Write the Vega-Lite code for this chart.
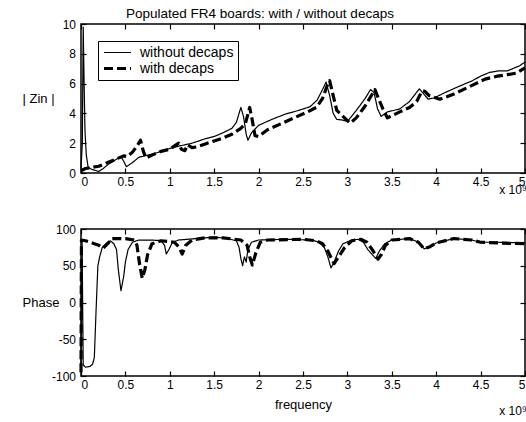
{
  "$schema": "https://vega.github.io/schema/vega-lite/v6.json",
  "autosize": {"type": "pad"},
  "padding": {"left": 21, "top": 5, "right": 0, "bottom": 0},
  "bounds": "flush",
  "spacing": 56,
  "config": {
    "font": "Liberation Sans",
    "view": {"stroke": "black", "strokeWidth": 1.5},
    "axis": {
      "domain": false, "grid": false, "tickColor": "black", "tickSize": -5, "tickWidth": 1.2,
      "labelFontSize": 12, "labelColor": "black", "labelFont": "Liberation Sans",
      "titleFontWeight": "normal", "titleColor": "black", "titleFont": "Liberation Sans", "titleFontSize": 13
    }
  },
  "datasets": {
    "mag": [
      {"f": 0, "v": 0.3, "s": "without decaps"},
      {"f": 0.015, "v": 2, "s": "without decaps"},
      {"f": 0.025, "v": 9.8, "s": "without decaps"},
      {"f": 0.035, "v": 6, "s": "without decaps"},
      {"f": 0.045, "v": 2.8, "s": "without decaps"},
      {"f": 0.06, "v": 1.2, "s": "without decaps"},
      {"f": 0.08, "v": 0.4, "s": "without decaps"},
      {"f": 0.12, "v": 0.25, "s": "without decaps"},
      {"f": 0.2, "v": 0.1, "s": "without decaps"},
      {"f": 0.25, "v": 0.3, "s": "without decaps"},
      {"f": 0.3, "v": 0.55, "s": "without decaps"},
      {"f": 0.38, "v": 0.85, "s": "without decaps"},
      {"f": 0.45, "v": 1.1, "s": "without decaps"},
      {"f": 0.48, "v": 0.8, "s": "without decaps"},
      {"f": 0.51, "v": 0.42, "s": "without decaps"},
      {"f": 0.58, "v": 0.7, "s": "without decaps"},
      {"f": 0.65, "v": 1.05, "s": "without decaps"},
      {"f": 0.75, "v": 1.2, "s": "without decaps"},
      {"f": 0.85, "v": 1.35, "s": "without decaps"},
      {"f": 1.0, "v": 1.65, "s": "without decaps"},
      {"f": 1.1, "v": 1.8, "s": "without decaps"},
      {"f": 1.25, "v": 2.0, "s": "without decaps"},
      {"f": 1.4, "v": 2.3, "s": "without decaps"},
      {"f": 1.5, "v": 2.45, "s": "without decaps"},
      {"f": 1.6, "v": 2.7, "s": "without decaps"},
      {"f": 1.7, "v": 3.0, "s": "without decaps"},
      {"f": 1.75, "v": 3.4, "s": "without decaps"},
      {"f": 1.8, "v": 4.4, "s": "without decaps"},
      {"f": 1.83, "v": 3.8, "s": "without decaps"},
      {"f": 1.86, "v": 2.6, "s": "without decaps"},
      {"f": 1.88, "v": 2.2, "s": "without decaps"},
      {"f": 1.92, "v": 2.7, "s": "without decaps"},
      {"f": 2.0, "v": 3.2, "s": "without decaps"},
      {"f": 2.15, "v": 3.6, "s": "without decaps"},
      {"f": 2.3, "v": 3.95, "s": "without decaps"},
      {"f": 2.45, "v": 4.2, "s": "without decaps"},
      {"f": 2.58, "v": 4.45, "s": "without decaps"},
      {"f": 2.66, "v": 4.9, "s": "without decaps"},
      {"f": 2.72, "v": 5.6, "s": "without decaps"},
      {"f": 2.76, "v": 6.1, "s": "without decaps"},
      {"f": 2.8, "v": 5.2, "s": "without decaps"},
      {"f": 2.84, "v": 4.0, "s": "without decaps"},
      {"f": 2.88, "v": 3.6, "s": "without decaps"},
      {"f": 2.95, "v": 3.55, "s": "without decaps"},
      {"f": 3.0, "v": 3.45, "s": "without decaps"},
      {"f": 3.1, "v": 4.2, "s": "without decaps"},
      {"f": 3.2, "v": 5.0, "s": "without decaps"},
      {"f": 3.26, "v": 5.6, "s": "without decaps"},
      {"f": 3.3, "v": 5.4, "s": "without decaps"},
      {"f": 3.34, "v": 4.3, "s": "without decaps"},
      {"f": 3.38, "v": 3.8, "s": "without decaps"},
      {"f": 3.45, "v": 4.1, "s": "without decaps"},
      {"f": 3.59, "v": 4.3, "s": "without decaps"},
      {"f": 3.7, "v": 4.8, "s": "without decaps"},
      {"f": 3.81, "v": 5.65, "s": "without decaps"},
      {"f": 3.86, "v": 5.3, "s": "without decaps"},
      {"f": 3.91, "v": 4.95, "s": "without decaps"},
      {"f": 3.98, "v": 5.05, "s": "without decaps"},
      {"f": 4.1, "v": 5.4, "s": "without decaps"},
      {"f": 4.25, "v": 5.8, "s": "without decaps"},
      {"f": 4.41, "v": 6.2, "s": "without decaps"},
      {"f": 4.5, "v": 6.5, "s": "without decaps"},
      {"f": 4.6, "v": 6.75, "s": "without decaps"},
      {"f": 4.7, "v": 6.85, "s": "without decaps"},
      {"f": 4.8, "v": 6.85, "s": "without decaps"},
      {"f": 4.94, "v": 7.2, "s": "without decaps"},
      {"f": 5.0, "v": 7.45, "s": "without decaps"},
      {"f": 0, "v": 0.15, "s": "with decaps"},
      {"f": 0.05, "v": 0.3, "s": "with decaps"},
      {"f": 0.1, "v": 0.35, "s": "with decaps"},
      {"f": 0.2, "v": 0.45, "s": "with decaps"},
      {"f": 0.3, "v": 0.7, "s": "with decaps"},
      {"f": 0.4, "v": 0.95, "s": "with decaps"},
      {"f": 0.48, "v": 1.15, "s": "with decaps"},
      {"f": 0.52, "v": 1.1, "s": "with decaps"},
      {"f": 0.58, "v": 1.4, "s": "with decaps"},
      {"f": 0.63, "v": 1.8, "s": "with decaps"},
      {"f": 0.67, "v": 2.2, "s": "with decaps"},
      {"f": 0.7, "v": 1.5, "s": "with decaps"},
      {"f": 0.73, "v": 1.0, "s": "with decaps"},
      {"f": 0.8, "v": 1.2, "s": "with decaps"},
      {"f": 0.9, "v": 1.45, "s": "with decaps"},
      {"f": 1.0, "v": 1.6, "s": "with decaps"},
      {"f": 1.05, "v": 1.8, "s": "with decaps"},
      {"f": 1.1, "v": 2.0, "s": "with decaps"},
      {"f": 1.13, "v": 1.6, "s": "with decaps"},
      {"f": 1.17, "v": 1.5, "s": "with decaps"},
      {"f": 1.2, "v": 1.9, "s": "with decaps"},
      {"f": 1.25, "v": 1.7, "s": "with decaps"},
      {"f": 1.3, "v": 1.75, "s": "with decaps"},
      {"f": 1.4, "v": 1.95, "s": "with decaps"},
      {"f": 1.5, "v": 2.15, "s": "with decaps"},
      {"f": 1.6, "v": 2.35, "s": "with decaps"},
      {"f": 1.7, "v": 2.6, "s": "with decaps"},
      {"f": 1.8, "v": 3.0, "s": "with decaps"},
      {"f": 1.85, "v": 3.3, "s": "with decaps"},
      {"f": 1.9, "v": 4.4, "s": "with decaps"},
      {"f": 1.93, "v": 3.5, "s": "with decaps"},
      {"f": 1.96, "v": 2.5, "s": "with decaps"},
      {"f": 2.0, "v": 2.45, "s": "with decaps"},
      {"f": 2.1, "v": 2.9, "s": "with decaps"},
      {"f": 2.25, "v": 3.3, "s": "with decaps"},
      {"f": 2.4, "v": 3.7, "s": "with decaps"},
      {"f": 2.55, "v": 4.1, "s": "with decaps"},
      {"f": 2.65, "v": 4.4, "s": "with decaps"},
      {"f": 2.72, "v": 5.0, "s": "with decaps"},
      {"f": 2.78, "v": 6.0, "s": "with decaps"},
      {"f": 2.8, "v": 6.2, "s": "with decaps"},
      {"f": 2.84, "v": 5.2, "s": "with decaps"},
      {"f": 2.88, "v": 4.2, "s": "with decaps"},
      {"f": 2.95, "v": 3.8, "s": "with decaps"},
      {"f": 3.03, "v": 3.35, "s": "with decaps"},
      {"f": 3.1, "v": 3.7, "s": "with decaps"},
      {"f": 3.2, "v": 4.5, "s": "with decaps"},
      {"f": 3.28, "v": 5.3, "s": "with decaps"},
      {"f": 3.31, "v": 5.6, "s": "with decaps"},
      {"f": 3.35, "v": 5.0, "s": "with decaps"},
      {"f": 3.4, "v": 4.3, "s": "with decaps"},
      {"f": 3.45, "v": 3.7, "s": "with decaps"},
      {"f": 3.59, "v": 4.1, "s": "with decaps"},
      {"f": 3.7, "v": 4.4, "s": "with decaps"},
      {"f": 3.78, "v": 4.8, "s": "with decaps"},
      {"f": 3.84, "v": 5.5, "s": "with decaps"},
      {"f": 3.87, "v": 5.5, "s": "with decaps"},
      {"f": 3.92, "v": 5.2, "s": "with decaps"},
      {"f": 4.04, "v": 4.95, "s": "with decaps"},
      {"f": 4.2, "v": 5.3, "s": "with decaps"},
      {"f": 4.41, "v": 5.9, "s": "with decaps"},
      {"f": 4.55, "v": 6.3, "s": "with decaps"},
      {"f": 4.69, "v": 6.5, "s": "with decaps"},
      {"f": 4.8, "v": 6.6, "s": "with decaps"},
      {"f": 4.9, "v": 6.7, "s": "with decaps"},
      {"f": 5.0, "v": 7.05, "s": "with decaps"}
    ],
    "phase": [
      {"f": 0, "p": -90, "s": "without decaps"},
      {"f": 0.012, "p": 85, "s": "without decaps"},
      {"f": 0.025, "p": -85, "s": "without decaps"},
      {"f": 0.05, "p": -88, "s": "without decaps"},
      {"f": 0.1, "p": -87, "s": "without decaps"},
      {"f": 0.13, "p": -84, "s": "without decaps"},
      {"f": 0.15, "p": -75, "s": "without decaps"},
      {"f": 0.17, "p": -10, "s": "without decaps"},
      {"f": 0.19, "p": 50, "s": "without decaps"},
      {"f": 0.21, "p": 62, "s": "without decaps"},
      {"f": 0.24, "p": 75, "s": "without decaps"},
      {"f": 0.28, "p": 80, "s": "without decaps"},
      {"f": 0.33, "p": 84, "s": "without decaps"},
      {"f": 0.37, "p": 80, "s": "without decaps"},
      {"f": 0.4, "p": 72, "s": "without decaps"},
      {"f": 0.42, "p": 45, "s": "without decaps"},
      {"f": 0.45, "p": 16, "s": "without decaps"},
      {"f": 0.48, "p": 35, "s": "without decaps"},
      {"f": 0.5, "p": 55, "s": "without decaps"},
      {"f": 0.53, "p": 72, "s": "without decaps"},
      {"f": 0.58, "p": 82, "s": "without decaps"},
      {"f": 0.65, "p": 85, "s": "without decaps"},
      {"f": 0.8, "p": 85, "s": "without decaps"},
      {"f": 0.9, "p": 84, "s": "without decaps"},
      {"f": 0.94, "p": 78, "s": "without decaps"},
      {"f": 0.96, "p": 66, "s": "without decaps"},
      {"f": 0.99, "p": 72, "s": "without decaps"},
      {"f": 1.03, "p": 82, "s": "without decaps"},
      {"f": 1.1, "p": 85, "s": "without decaps"},
      {"f": 1.3, "p": 87, "s": "without decaps"},
      {"f": 1.5, "p": 89, "s": "without decaps"},
      {"f": 1.65, "p": 87, "s": "without decaps"},
      {"f": 1.75, "p": 84, "s": "without decaps"},
      {"f": 1.78, "p": 75, "s": "without decaps"},
      {"f": 1.8, "p": 60, "s": "without decaps"},
      {"f": 1.82, "p": 50, "s": "without decaps"},
      {"f": 1.84, "p": 62, "s": "without decaps"},
      {"f": 1.86, "p": 55, "s": "without decaps"},
      {"f": 1.88, "p": 72, "s": "without decaps"},
      {"f": 1.92, "p": 82, "s": "without decaps"},
      {"f": 2.0, "p": 85, "s": "without decaps"},
      {"f": 2.3, "p": 86, "s": "without decaps"},
      {"f": 2.6, "p": 85, "s": "without decaps"},
      {"f": 2.68, "p": 82, "s": "without decaps"},
      {"f": 2.74, "p": 75, "s": "without decaps"},
      {"f": 2.78, "p": 62, "s": "without decaps"},
      {"f": 2.815, "p": 47, "s": "without decaps"},
      {"f": 2.85, "p": 55, "s": "without decaps"},
      {"f": 2.9, "p": 70, "s": "without decaps"},
      {"f": 2.95, "p": 80, "s": "without decaps"},
      {"f": 3.05, "p": 85, "s": "without decaps"},
      {"f": 3.12, "p": 86, "s": "without decaps"},
      {"f": 3.18, "p": 82, "s": "without decaps"},
      {"f": 3.23, "p": 72, "s": "without decaps"},
      {"f": 3.28, "p": 65, "s": "without decaps"},
      {"f": 3.32, "p": 60, "s": "without decaps"},
      {"f": 3.36, "p": 70, "s": "without decaps"},
      {"f": 3.42, "p": 80, "s": "without decaps"},
      {"f": 3.5, "p": 85, "s": "without decaps"},
      {"f": 3.7, "p": 87, "s": "without decaps"},
      {"f": 3.8, "p": 82, "s": "without decaps"},
      {"f": 3.865, "p": 73, "s": "without decaps"},
      {"f": 3.93, "p": 76, "s": "without decaps"},
      {"f": 4.0, "p": 81, "s": "without decaps"},
      {"f": 4.2, "p": 87, "s": "without decaps"},
      {"f": 4.4, "p": 85, "s": "without decaps"},
      {"f": 4.5, "p": 82, "s": "without decaps"},
      {"f": 4.7, "p": 82, "s": "without decaps"},
      {"f": 5.0, "p": 81, "s": "without decaps"},
      {"f": 0, "p": -95, "s": "with decaps"},
      {"f": 0.005, "p": 85, "s": "with decaps"},
      {"f": 0.05, "p": 84, "s": "with decaps"},
      {"f": 0.1, "p": 82, "s": "with decaps"},
      {"f": 0.15, "p": 80, "s": "with decaps"},
      {"f": 0.2, "p": 78, "s": "with decaps"},
      {"f": 0.25, "p": 74, "s": "with decaps"},
      {"f": 0.3, "p": 80, "s": "with decaps"},
      {"f": 0.35, "p": 87, "s": "with decaps"},
      {"f": 0.5, "p": 87, "s": "with decaps"},
      {"f": 0.6, "p": 85, "s": "with decaps"},
      {"f": 0.63, "p": 78, "s": "with decaps"},
      {"f": 0.66, "p": 52, "s": "with decaps"},
      {"f": 0.69, "p": 33, "s": "with decaps"},
      {"f": 0.72, "p": 45, "s": "with decaps"},
      {"f": 0.75, "p": 65, "s": "with decaps"},
      {"f": 0.8, "p": 80, "s": "with decaps"},
      {"f": 0.9, "p": 84, "s": "with decaps"},
      {"f": 1.05, "p": 82, "s": "with decaps"},
      {"f": 1.1, "p": 76, "s": "with decaps"},
      {"f": 1.14, "p": 66, "s": "with decaps"},
      {"f": 1.18, "p": 78, "s": "with decaps"},
      {"f": 1.25, "p": 85, "s": "with decaps"},
      {"f": 1.4, "p": 88, "s": "with decaps"},
      {"f": 1.6, "p": 88, "s": "with decaps"},
      {"f": 1.8, "p": 85, "s": "with decaps"},
      {"f": 1.87, "p": 78, "s": "with decaps"},
      {"f": 1.9, "p": 62, "s": "with decaps"},
      {"f": 1.93, "p": 51, "s": "with decaps"},
      {"f": 1.97, "p": 68, "s": "with decaps"},
      {"f": 2.02, "p": 82, "s": "with decaps"},
      {"f": 2.1, "p": 85, "s": "with decaps"},
      {"f": 2.5, "p": 86, "s": "with decaps"},
      {"f": 2.65, "p": 84, "s": "with decaps"},
      {"f": 2.72, "p": 80, "s": "with decaps"},
      {"f": 2.78, "p": 70, "s": "with decaps"},
      {"f": 2.82, "p": 60, "s": "with decaps"},
      {"f": 2.85, "p": 53, "s": "with decaps"},
      {"f": 2.9, "p": 62, "s": "with decaps"},
      {"f": 2.97, "p": 75, "s": "with decaps"},
      {"f": 3.05, "p": 84, "s": "with decaps"},
      {"f": 3.15, "p": 86, "s": "with decaps"},
      {"f": 3.22, "p": 82, "s": "with decaps"},
      {"f": 3.28, "p": 72, "s": "with decaps"},
      {"f": 3.345, "p": 59, "s": "with decaps"},
      {"f": 3.38, "p": 65, "s": "with decaps"},
      {"f": 3.43, "p": 78, "s": "with decaps"},
      {"f": 3.5, "p": 85, "s": "with decaps"},
      {"f": 3.7, "p": 87, "s": "with decaps"},
      {"f": 3.8, "p": 82, "s": "with decaps"},
      {"f": 3.865, "p": 73, "s": "with decaps"},
      {"f": 3.93, "p": 76, "s": "with decaps"},
      {"f": 4.0, "p": 81, "s": "with decaps"},
      {"f": 4.2, "p": 87, "s": "with decaps"},
      {"f": 4.4, "p": 85, "s": "with decaps"},
      {"f": 4.5, "p": 82, "s": "with decaps"},
      {"f": 4.7, "p": 81, "s": "with decaps"},
      {"f": 5.0, "p": 80, "s": "with decaps"}
    ]
  },
  "resolve": {
    "scale": {"strokeDash": "independent", "strokeWidth": "independent"},
    "legend": {"strokeDash": "independent", "strokeWidth": "independent"}
  },
  "vconcat": [
    {
      "width": 444,
      "height": 149,
      "title": {"text": "Populated FR4 boards: with / without decaps", "anchor": "start", "dx": 45, "frame": "group", "baseline": "alphabetic", "offset": -13, "fontSize": 13.5, "fontWeight": "normal", "color": "black", "font": "Liberation Sans"},
      "layer": [
        {
          "data": {"name": "mag"},
          "mark": {"type": "line", "color": "black", "strokeCap": "butt", "strokeJoin": "round"},
          "encoding": {
            "x": {"field": "f", "type": "quantitative", "scale": {"domain": [0, 5], "nice": false},
              "axis": {"orient": "bottom", "values": [0, 0.5, 1, 1.5, 2, 2.5, 3, 3.5, 4, 4.5, 5], "labelExpr": "datum.value", "labelPadding": 8.5, "title": null}},
            "y": {"field": "v", "type": "quantitative", "scale": {"domain": [0, 10], "nice": false},
              "axis": {"orient": "left", "values": [0, 2, 4, 6, 8, 10], "labelExpr": "datum.value", "labelPadding": 10.5, "title": "| Zin |", "titleAngle": 0, "titleAlign": "left", "titleBaseline": "middle", "titleX": -59, "titleY": 74.5}},
            "strokeDash": {"field": "s", "type": "nominal", "scale": {"domain": ["without decaps", "with decaps"], "range": [[1, 0], [9, 4]]},
              "legend": {"orient": "none", "legendX": 17, "legendY": 17, "title": null, "strokeColor": "black", "padding": 4, "symbolType": "M-2,0H2", "symbolSize": 182, "symbolOffset": 7, "symbolStrokeColor": "black", "labelFontSize": 14, "labelFont": "Liberation Sans", "labelColor": "black", "labelOffset": 14, "rowPadding": 0, "labelLimit": 300}},
            "strokeWidth": {"field": "s", "type": "nominal", "scale": {"domain": ["without decaps", "with decaps"], "range": [1.2, 3.2]},
              "legend": {"orient": "none", "legendX": 17, "legendY": 17, "title": null, "strokeColor": "black", "padding": 4, "symbolType": "M-2,0H2", "symbolSize": 182, "symbolOffset": 7, "symbolStrokeColor": "black", "labelFontSize": 14, "labelFont": "Liberation Sans", "labelColor": "black", "labelOffset": 14, "rowPadding": 0, "labelLimit": 300}}
          }
        },
        {
          "data": {"values": [{}]},
          "mark": {"type": "text", "text": "x 10⁹", "align": "right", "baseline": "middle", "dy": 17, "dx": 2, "fontSize": 12, "color": "black", "font": "Liberation Sans"},
          "encoding": {
            "x": {"datum": 5, "type": "quantitative", "axis": {"orient": "top", "values": [0, 0.5, 1, 1.5, 2, 2.5, 3, 3.5, 4, 4.5, 5], "labels": false, "title": null}},
            "y": {"datum": 0, "type": "quantitative", "axis": {"orient": "right", "values": [0, 2, 4, 6, 8, 10], "labels": false, "title": null}}
          }
        }
      ],
      "resolve": {"axis": {"x": "independent", "y": "independent"}}
    },
    {
      "width": 444,
      "height": 147,
      "layer": [
        {
          "data": {"name": "phase"},
          "mark": {"type": "line", "color": "black", "strokeCap": "butt", "strokeJoin": "round"},
          "encoding": {
            "x": {"field": "f", "type": "quantitative", "scale": {"domain": [0, 5], "nice": false},
              "axis": {"orient": "bottom", "values": [0, 0.5, 1, 1.5, 2, 2.5, 3, 3.5, 4, 4.5, 5], "labelExpr": "datum.value", "labelPadding": 8.5, "title": "frequency", "titlePadding": 8}},
            "y": {"field": "p", "type": "quantitative", "scale": {"domain": [-100, 100], "nice": false},
              "axis": {"orient": "left", "values": [-100, -50, 0, 50, 100], "labelExpr": "datum.value", "labelPadding": 10.5, "title": "Phase", "titleAngle": 0, "titleAlign": "left", "titleBaseline": "middle", "titleX": -59, "titleY": 73.5}},
            "strokeDash": {"field": "s", "type": "nominal", "scale": {"domain": ["without decaps", "with decaps"], "range": [[1, 0], [9, 4]]}, "legend": null},
            "strokeWidth": {"field": "s", "type": "nominal", "scale": {"domain": ["without decaps", "with decaps"], "range": [1.2, 3.2]}, "legend": null}
          }
        },
        {
          "data": {"values": [{}]},
          "mark": {"type": "text", "text": "x 10⁹", "align": "right", "baseline": "middle", "dy": 35, "dx": 2, "fontSize": 12, "color": "black", "font": "Liberation Sans"},
          "encoding": {
            "x": {"datum": 5, "type": "quantitative", "axis": {"orient": "top", "values": [0, 0.5, 1, 1.5, 2, 2.5, 3, 3.5, 4, 4.5, 5], "labels": false, "title": null}},
            "y": {"datum": -100, "type": "quantitative", "axis": {"orient": "right", "values": [-100, -50, 0, 50, 100], "labels": false, "title": null}}
          }
        }
      ],
      "resolve": {"axis": {"x": "independent", "y": "independent"}}
    }
  ]
}
